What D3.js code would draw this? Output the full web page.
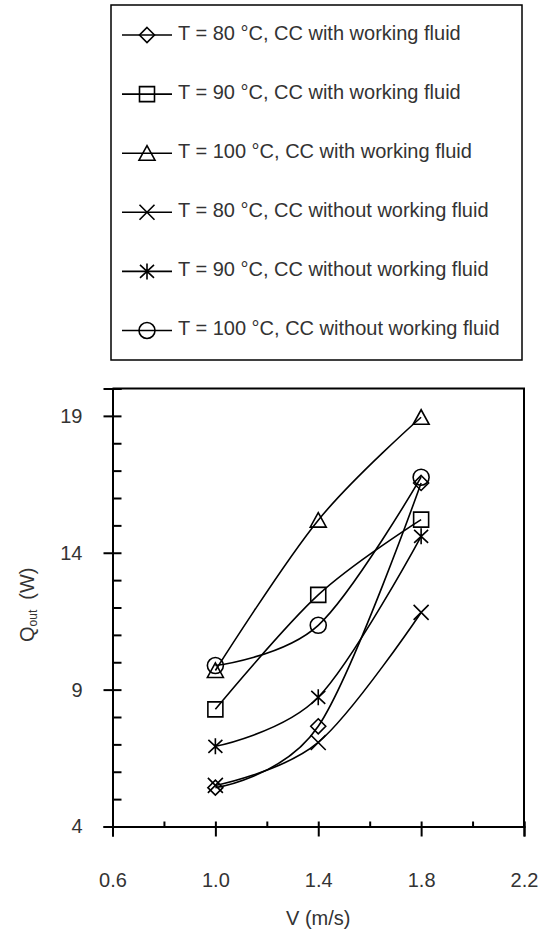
<!DOCTYPE html>
<html>
<head>
<meta charset="utf-8">
<script src="https://cdn.jsdelivr.net/npm/d3@7"></script>
<style>
  body { margin: 0; background: #fff; }
  svg { display: block; font-family: "Liberation Sans", Arial, sans-serif; }
</style>
</head>
<body>
<div id="chart"></div>
<script>
// velocities on the x axis (m/s)
const velocities = [1.0, 1.4, 1.8];

// Q_out (W) for each case
const q80With = [5.42, 7.66, 16.55];
const q90With = [8.28, 12.46, 15.21];
const q100With = [9.7, 15.19, 18.95];
const q80Without = [5.5, 7.07, 11.82];
const q90Without = [6.93, 8.72, 14.6];
const q100Without = [9.88, 11.35, 16.76];

const seriesLabels = [
  "T = 80 °C, CC with working fluid",
  "T = 90 °C, CC with working fluid",
  "T = 100 °C, CC with working fluid",
  "T = 80 °C, CC without working fluid",
  "T = 90 °C, CC without working fluid",
  "T = 100 °C, CC without working fluid"
];
const seriesMarkers = ["diamond", "square", "triangle", "cross", "asterisk", "circle"];

const xTicks = [0.6, 1.0, 1.4, 1.8, 2.2];
const xMinorTicks = [0.8, 1.2, 1.6, 2.0];
const yTicks = [4, 9, 14, 19];
const yMinorTicks = [5, 6, 7, 8, 10, 11, 12, 13, 15, 16, 17, 18, 20];

const series = [q80With, q90With, q100With, q80Without, q90Without, q100Without]
  .map((vals, i) => ({
    label: seriesLabels[i],
    marker: seriesMarkers[i],
    points: vals.map((v, j) => ({ v: velocities[j], q: v }))
  }));

const W = 547, H = 931;
const svg = d3.select("#chart").append("svg")
  .attr("width", W)
  .attr("height", H);

const textColor = "#333";

// plot area
const x = d3.scaleLinear().domain([0.6, 2.2]).range([112.5, 524]);
const y = d3.scaleLinear().domain([4, 20]).range([826.5, 388.5]);

function markerPath(type) {
  const p = d3.path();
  if (type === "diamond") {
    const s = 7.5;
    p.moveTo(0, -s); p.lineTo(s, 0); p.lineTo(0, s); p.lineTo(-s, 0); p.closePath();
  } else if (type === "square") {
    p.rect(-7.5, -7.5, 15, 15);
  } else if (type === "triangle") {
    p.moveTo(0, -7.5); p.lineTo(8, 7); p.lineTo(-8, 7); p.closePath();
  } else if (type === "cross") {
    p.moveTo(-7.5, -7.5); p.lineTo(7.5, 7.5);
    p.moveTo(7.5, -7.5); p.lineTo(-7.5, 7.5);
  } else if (type === "asterisk") {
    p.moveTo(-7, -6.5); p.lineTo(7, 6.5);
    p.moveTo(7, -6.5); p.lineTo(-7, 6.5);
    p.moveTo(0, -8); p.lineTo(0, 8);
  } else if (type === "circle") {
    p.moveTo(8, 0); p.arc(0, 0, 8, 0, 2 * Math.PI);
  }
  return p.toString();
}

// axes
const yAxis = svg.append("g")
  .attr("transform", `translate(${x(0.6)},0)`)
  .call(d3.axisLeft(y).tickValues(yTicks).tickSize(9).tickPadding(21).tickFormat(d3.format("d")));
svg.append("g")
  .attr("transform", `translate(${x(0.6)},0)`)
  .call(d3.axisRight(y).tickValues(yTicks.concat(yMinorTicks)).tickSize(9).tickFormat(""));

const xAxis = svg.append("g")
  .attr("transform", `translate(0,${y(4)})`)
  .call(d3.axisBottom(x).tickValues(xTicks).tickSize(10).tickPadding(36).tickFormat(d3.format(".1f")));
svg.append("g")
  .attr("transform", `translate(0,${y(4)})`)
  .call(d3.axisTop(x).tickValues(xTicks.concat(xMinorTicks)).tickSize(5).tickFormat(""));

svg.selectAll(".domain").attr("stroke", "#000").attr("stroke-width", 2);
svg.selectAll(".tick line").attr("stroke", "#000").attr("stroke-width", 2);
svg.selectAll(".tick text")
  .attr("fill", textColor)
  .style("font-size", "20px")
  .style("font-family", "'Liberation Sans', Arial, sans-serif");

// top and right border
svg.append("path")
  .attr("d", `M${x(0.6)},${y(20)}H${x(2.2)}V${y(4)}`)
  .attr("fill", "none")
  .attr("stroke", "#000")
  .attr("stroke-width", 2);

// axis titles
svg.append("text")
  .attr("x", x(1.4))
  .attr("y", 925)
  .attr("text-anchor", "middle")
  .attr("fill", textColor)
  .style("font-size", "20px")
  .text("V (m/s)");

const yTitle = svg.append("text")
  .attr("transform", "translate(34,642) rotate(-90)")
  .attr("fill", textColor)
  .style("font-size", "20px");
yTitle.append("tspan").text("Q");
yTitle.append("tspan").attr("dy", 3).style("font-size", "12px").text("out");
yTitle.append("tspan").attr("dy", -3).attr("dx", 10).text("(W)");

// lines
const line = d3.line()
  .x(d => x(d.v))
  .y(d => y(d.q))
  .curve(d3.curveCardinal.tension(0));

const plot = svg.append("g");
plot.selectAll(".series-line")
  .data(series)
  .enter().append("path")
  .attr("class", "series-line")
  .attr("d", d => line(d.points))
  .attr("fill", "none")
  .attr("stroke", "#000")
  .attr("stroke-width", 1.6);

series.forEach(s => {
  plot.selectAll(null)
    .data(s.points)
    .enter().append("path")
    .attr("transform", d => `translate(${x(d.v)},${y(d.q)})`)
    .attr("d", markerPath(s.marker))
    .attr("fill", "none")
    .attr("stroke", "#000")
    .attr("stroke-width", 1.6);
});

// legend
const legend = svg.append("g");
legend.append("rect")
  .attr("x", 111)
  .attr("y", 5)
  .attr("width", 411)
  .attr("height", 355)
  .attr("fill", "none")
  .attr("stroke", "#000")
  .attr("stroke-width", 1.5);

const rows = legend.selectAll(".row")
  .data(series)
  .enter().append("g")
  .attr("class", "row")
  .attr("transform", (d, i) => `translate(0,${35 + i * 59.1})`);

rows.append("line")
  .attr("x1", 122).attr("x2", 172)
  .attr("stroke", "#000")
  .attr("stroke-width", 1.6);
rows.append("path")
  .attr("transform", "translate(147,0)")
  .attr("d", d => markerPath(d.marker))
  .attr("fill", "none")
  .attr("stroke", "#000")
  .attr("stroke-width", 1.6);
rows.append("text")
  .attr("x", 178)
  .attr("y", 4.5)
  .attr("fill", textColor)
  .style("font-size", "20px")
  .text(d => d.label);
</script>
</body>
</html>
